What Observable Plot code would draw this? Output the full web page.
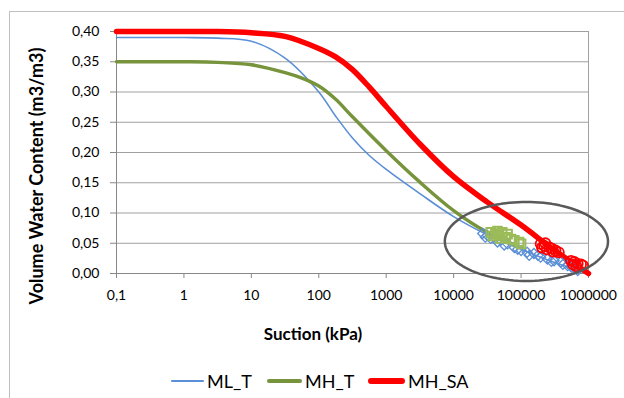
<!DOCTYPE html>
<html><head><meta charset="utf-8">
<script src="https://cdn.jsdelivr.net/npm/d3@7"></script>
<script src="https://cdn.jsdelivr.net/npm/@observablehq/plot@0.6"></script>
<style>
body{margin:0;background:#fff;}
#wrap{position:relative;width:624px;height:398px;overflow:hidden;font-family:Lato,sans-serif;color:#000;}
#wrap svg.plot{position:absolute;left:0;top:0;}
#frame{position:absolute;left:9px;top:11px;width:800px;height:600px;border-left:1px solid #BFBFBF;border-top:1px solid #BFBFBF;}
#ytitle{position:absolute;left:36px;top:176px;transform:translate(-50%,-50%) rotate(-90deg);white-space:nowrap;font-weight:bold;font-size:18px;}
#xtitle{position:absolute;left:313px;top:333px;transform:translate(-50%,-50%);white-space:nowrap;font-weight:bold;font-size:17px;}
#legend{position:absolute;left:0;top:381px;width:100%;height:0;}
.li{position:absolute;top:0;transform:translateY(-50%);display:flex;align-items:center;font-size:18px;white-space:nowrap;}
.li span.sw{display:inline-block;margin-right:3px;border-radius:3px;}
</style></head>
<body><div id="wrap"><div id="frame"></div></div>
<script>
// ---- data ----
const xTicks = [0.1, 1, 10, 100, 1000, 10000, 100000, 1000000];
const xTickLabels = ["0,1", "1", "10", "100", "1000", "10000", "100000", "1000000"];
const yTicks = [0, 0.05, 0.10, 0.15, 0.20, 0.25, 0.30, 0.35, 0.40];
const yTickLabels = ["0,00", "0,05", "0,10", "0,15", "0,20", "0,25", "0,30", "0,35", "0,40"];

const seriesNames = ["ML_T", "MH_T", "MH_SA"];

const mlT_suction = [0.1, 1, 3.16, 10, 31.6, 100, 178, 316, 562, 1000, 3160, 10000, 31600, 100000, 316000, 1000000];
const mlT_theta   = [0.390, 0.390, 0.389, 0.384, 0.356, 0.300, 0.260, 0.224, 0.195, 0.172, 0.132, 0.094, 0.064, 0.040, 0.018, 0.000];

const mhT_suction = [0.1, 1, 3.16, 10, 31.6, 56.2, 100, 178, 316, 1000, 3160, 10000, 31600, 100000];
const mhT_theta   = [0.350, 0.350, 0.349, 0.345, 0.332, 0.323, 0.310, 0.288, 0.259, 0.203, 0.151, 0.104, 0.068, 0.043];

const mhSA_suction = [0.1, 1, 3.16, 10, 31.6, 100, 178, 316, 562, 1000, 3160, 10000, 31600, 100000, 316000, 1000000];
const mhSA_theta   = [0.400, 0.400, 0.400, 0.398, 0.392, 0.372, 0.358, 0.337, 0.308, 0.276, 0.214, 0.160, 0.118, 0.080, 0.038, 0.000];

// measured points
const mlT_obs_suction = [26900, 29500, 31600, 35500, 39800, 44700, 50100, 56200, 63100, 79400, 89100, 100000, 123000, 132000, 155000, 178000, 195000, 245000, 282000, 309000, 389000, 417000, 490000, 562000, 617000, 692000];
const mlT_obs_theta   = [0.066, 0.060, 0.063, 0.058, 0.060, 0.052, 0.055, 0.047, 0.049, 0.043, 0.040, 0.038, 0.035, 0.030, 0.033, 0.030, 0.027, 0.024, 0.020, 0.021, 0.019, 0.015, 0.013, 0.010, 0.008, 0.005];

const mhT_obs_suction = [35500, 38000, 41700, 44700, 46800, 49000, 52500, 58900, 63100, 70800, 79400, 93300, 100000];
const mhT_obs_theta   = [0.068, 0.062, 0.066, 0.070, 0.063, 0.058, 0.068, 0.060, 0.065, 0.057, 0.055, 0.052, 0.049];

const mhSA_obs_suction = [195000, 204000, 219000, 229000, 240000, 263000, 288000, 302000, 324000, 363000, 550000, 589000, 617000, 661000, 692000, 776000, 832000];
const mhSA_obs_theta   = [0.049, 0.043, 0.046, 0.050, 0.040, 0.043, 0.041, 0.036, 0.038, 0.035, 0.021, 0.015, 0.019, 0.012, 0.016, 0.015, 0.013];

// highlight ellipse annotation (center suction, center theta, radius in decades, radius in theta)
const ellipseCenter = [120000, 0.053];
const ellipseRadii = [1.21, 0.0653];

// ---- build ----
const toRows = (xs, ys) => xs.map((x, i) => ({x, y: ys[i]}));
const mlT = toRows(mlT_suction, mlT_theta);
const mhT = toRows(mhT_suction, mhT_theta);
const mhSA = toRows(mhSA_suction, mhSA_theta);
const mlTo = toRows(mlT_obs_suction, mlT_obs_theta);
const mhTo = toRows(mhT_obs_suction, mhT_obs_theta);
const mhSAo = toRows(mhSA_obs_suction, mhSA_obs_theta);

const ell = d3.range(0, 121).map(k => {
  const t = k / 120 * 2 * Math.PI;
  return {x: Math.pow(10, Math.log10(ellipseCenter[0]) + ellipseRadii[0] * Math.cos(t)),
          y: ellipseCenter[1] + ellipseRadii[1] * Math.sin(t)};
});

const C = {ml: "#5B8FD6", mh: "#77933C", mhPt: "#9BBB59", sa: "#FF0000"};
const grid = "#A0A0A0";
const lbl = (arr, labels) => d => labels[arr.findIndex(t => Math.abs(t - d) < 1e-9 * Math.max(1, Math.abs(t)))];

const chart = Plot.plot({
  width: 624, height: 398,
  marginLeft: 116, marginRight: 36, marginTop: 31, marginBottom: 125,
  x: {type: "log", domain: [0.1, 1000000]},
  y: {domain: [0, 0.4]},
  style: {fontFamily: "Lato, sans-serif", fontSize: "14px", background: "transparent", color: "#000"},
  marks: [
    Plot.ruleY(yTicks.slice(1), {stroke: grid, strokeWidth: 1}),
    Plot.ruleX([1000000], {stroke: grid, strokeWidth: 1}),
    Plot.ruleY([0], {stroke: "#888", strokeWidth: 1}),
    Plot.ruleX([0.1], {stroke: "#888", strokeWidth: 1}),
    Plot.axisY({ticks: yTicks, tickFormat: lbl(yTicks, yTickLabels), tickSize: 6, tickPadding: 11, label: null, stroke: "#888", fill: "#000"}),
    Plot.axisX({ticks: xTicks, tickFormat: lbl(xTicks, xTickLabels), tickSize: 5, tickPadding: 12, label: null, stroke: "#888", fill: "#000"}),
    Plot.line(mlT, {x: "x", y: "y", stroke: C.ml, strokeWidth: 1.6, curve: "catmull-rom"}),
    Plot.line(mhT, {x: "x", y: "y", stroke: C.mh, strokeWidth: 3.4, curve: "catmull-rom"}),
    Plot.line(mhSA, {x: "x", y: "y", stroke: C.sa, strokeWidth: 5.5, curve: "catmull-rom"}),
    Plot.dot(mlTo, {x: "x", y: "y", symbol: "diamond2", r: 4.5, stroke: C.ml, strokeWidth: 1.3, fill: "none"}),
    Plot.dot(mhTo, {x: "x", y: "y", symbol: "square2", r: 5.5, stroke: C.mhPt, strokeWidth: 2, fill: "none"}),
    Plot.dot(mhSAo, {x: "x", y: "y", symbol: "circle", r: 5, stroke: C.sa, strokeWidth: 1.8, fill: "none"}),
    Plot.line(ell, {x: "x", y: "y", stroke: "#595959", strokeWidth: 2.5, curve: "linear"})
  ]
});
chart.classList.add("plot");
const wrap = document.getElementById("wrap");
wrap.appendChild(chart);

const yt = document.createElement("div"); yt.id = "ytitle"; yt.textContent = "Volume Water Content (m3/m3)"; wrap.appendChild(yt);
const xt = document.createElement("div"); xt.id = "xtitle"; xt.textContent = "Suction (kPa)"; wrap.appendChild(xt);

const legend = document.createElement("div"); legend.id = "legend"; wrap.appendChild(legend);
const legItems = [
  {name: seriesNames[0], color: C.ml, w: 2, left: 171, len: 33},
  {name: seriesNames[1], color: C.mh, w: 4, left: 267, len: 35},
  {name: seriesNames[2], color: C.sa, w: 6, left: 368, len: 37}
];
legItems.forEach(it => {
  const d = document.createElement("div"); d.className = "li"; d.style.left = it.left + "px";
  const s = document.createElement("span"); s.className = "sw";
  s.style.width = it.len + "px"; s.style.height = it.w + "px"; s.style.background = it.color;
  const t = document.createElement("span"); t.textContent = it.name;
  d.appendChild(s); d.appendChild(t); legend.appendChild(d);
});
</script></body></html>
